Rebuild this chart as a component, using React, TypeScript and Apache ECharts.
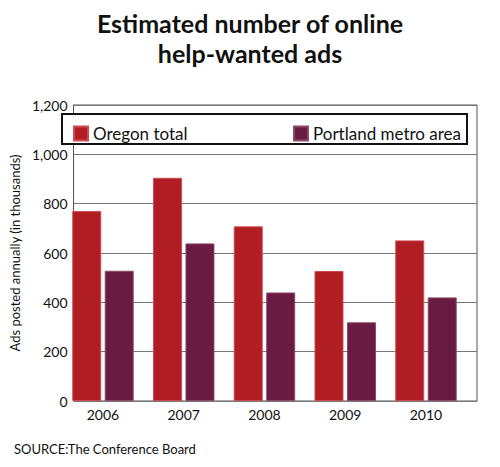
import React, { useEffect, useRef } from "react";
import * as echarts from "echarts";

const categories = ["2006", "2007", "2008", "2009", "2010"];
const oregonTotal = [770, 905, 708, 527, 651];
const portlandMetro = [528, 639, 440, 319, 420];
const seriesNames = ["Oregon total", "Portland metro area"];
const titleLines = ["Estimated number of online", "help-wanted ads"];
const yAxisName = "Ads posted annually (in thousands)";
const sourceText = "SOURCE:The Conference Board";

const FONT = "Lato, 'Open Sans', sans-serif";

export default function App() {
  const ref = useRef<HTMLDivElement>(null);
  useEffect(() => {
    document.body.style.margin = "0";
    if (!ref.current) return;
    const chart = echarts.init(ref.current, null, { renderer: "svg" });
    const titleStyle = { fontSize: 25, fontWeight: "bold", color: "#111", lineHeight: 25, fontFamily: FONT };
    chart.setOption({
      animation: false,
      backgroundColor: "#fff",
      textStyle: { fontFamily: FONT },
      title: [
        { text: titleLines[0], left: "center", top: 10, padding: 0, textStyle: titleStyle },
        { text: titleLines[1], left: "center", top: 40, padding: 0, textStyle: titleStyle },
      ],
      legend: [
        {
          data: [seriesNames[0]],
          left: 68,
          top: 120,
          z: 20,
          itemWidth: 14,
          itemHeight: 14,
          icon: "rect",
          textStyle: { fontSize: 17, color: "#111", fontFamily: FONT },
        },
        {
          data: [seriesNames[1]],
          left: 288,
          top: 120,
          z: 20,
          itemWidth: 14,
          itemHeight: 14,
          icon: "rect",
          textStyle: { fontSize: 17, color: "#111", fontFamily: FONT },
        },
      ],
      grid: [
        { left: 52, right: 23, top: 105, bottom: 66, show: true, borderColor: "#555", borderWidth: 1, backgroundColor: "transparent" },
        { left: 62.6, width: 403.75, top: 105, bottom: 66 },
      ],
      xAxis: [
        { gridIndex: 0, type: "value", min: 0, max: 1, show: false },
        {
          gridIndex: 1,
          type: "category",
          data: categories,
          axisLine: { show: false },
          axisTick: { show: false },
          axisLabel: { fontSize: 14, color: "#111", margin: 6, fontFamily: FONT },
        },
      ],
      yAxis: [
        {
          gridIndex: 0,
          type: "value",
          min: 0,
          max: 1200,
          interval: 200,
          name: yAxisName,
          nameLocation: "middle",
          nameGap: 38,
          nameTextStyle: { fontSize: 13, color: "#111", fontFamily: FONT },
          axisLine: { show: true, lineStyle: { color: "#555" } },
          axisTick: { show: false },
          axisLabel: {
            fontSize: 14,
            color: "#111",
            margin: 6,
            fontFamily: FONT,
            formatter: (v: number) => v.toLocaleString("en-US"),
          },
          splitLine: { show: true, lineStyle: { color: "#777", width: 1 } },
        },
        { gridIndex: 1, type: "value", min: 0, max: 1200, show: false },
      ],
      graphic: [
        {
          type: "rect",
          shape: { x: 62, y: 114, width: 405, height: 30 },
          style: { fill: "#fff", stroke: "#111", lineWidth: 2 },
          z: 1,
        },
        {
          type: "text",
          left: 14,
          top: 442,
          style: { text: sourceText, fontSize: 13, fill: "#111", fontFamily: FONT },
        },
      ],
      series: [
        {
          name: seriesNames[0],
          type: "bar",
          xAxisIndex: 1,
          yAxisIndex: 1,
          data: oregonTotal,
          barWidth: 29,
          barGap: "12%",
          itemStyle: { color: "#B01E24", borderColor: "#cf4a50", borderWidth: 1 },
        },
        {
          name: seriesNames[1],
          type: "bar",
          xAxisIndex: 1,
          yAxisIndex: 1,
          data: portlandMetro,
          barWidth: 29,
          barGap: "12%",
          itemStyle: { color: "#6A1B41", borderColor: "#8d4a68", borderWidth: 1 },
        },
      ],
    });
    return () => chart.dispose();
  }, []);
  return <div ref={ref} style={{ width: 500, height: 467 }} />;
}
